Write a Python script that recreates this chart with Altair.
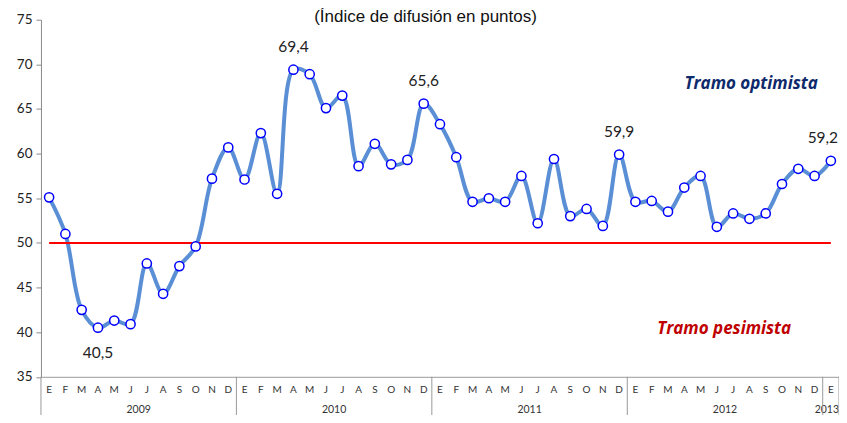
import altair as alt
import pandas as pd

# ---- data ----
months = ["E", "F", "M", "A", "M", "J", "J", "A", "S", "O", "N", "D"] * 4 + ["E"]
years = [2009] * 12 + [2010] * 12 + [2011] * 12 + [2012] * 12 + [2013]
values = [
    55.1, 51.0, 42.5, 40.5, 41.3, 40.9, 47.7, 44.3, 47.4, 49.6, 57.2, 60.7,
    57.1, 62.3, 55.5, 69.4, 68.9, 65.1, 66.5, 58.6, 61.1, 58.8, 59.3, 65.6,
    63.3, 59.6, 54.6, 55.0, 54.6, 57.5, 52.2, 59.4, 53.0, 53.8, 51.9, 59.9,
    54.6, 54.7, 53.5, 56.2, 57.5, 51.8, 53.3, 52.7, 53.3, 56.6, 58.3, 57.5,
    59.2,
]
label_idx = [3, 15, 23, 35, 48]
label_below = [True, False, False, False, False]
threshold = 50
y_ticks = [35, 40, 45, 50, 55, 60, 65, 70, 75]

n = len(values)
df = pd.DataFrame({"i": list(range(n)), "v": values, "m": months, "yr": years})

# year groups
yr_rows = []
for yv in sorted(set(years)):
    idx = [k for k, y in enumerate(years) if y == yv]
    yr_rows.append({"yr": str(yv), "c": (min(idx) + max(idx)) / 2})
yr_df = pd.DataFrame(yr_rows)
seps = sorted({min(k for k, y in enumerate(years) if y == yv) - 0.5 for yv in set(years)} | {n - 0.5})
sep_df = pd.DataFrame({"x": seps})

lab_df = pd.DataFrame({
    "i": label_idx,
    "v": [values[k] for k in label_idx],
    "t": [f"{values[k]:.1f}".replace(".", ",") for k in label_idx],
    "below": label_below,
})
thr_df = pd.DataFrame({"x": [0], "x2": [n - 1], "y": [threshold]})

W, H = 799, 357.5
xs = alt.Scale(domain=[-0.5, n - 0.5], nice=False, zero=False)
ys = alt.Scale(domain=[35, 75], nice=False, zero=False)

line = alt.Chart(df).mark_line(interpolate="catmull-rom", color="#5A8FD6", strokeWidth=4).encode(
    x=alt.X("i:Q", scale=xs, axis=alt.Axis(labels=False, ticks=False, grid=False, title=None,
                                           domainColor="#9a9a9a", domainWidth=1)),
    y=alt.Y("v:Q", scale=ys, axis=alt.Axis(values=y_ticks, grid=False, title=None, tickSize=5,
                                           tickColor="#8a8a8a", domainColor="#8a8a8a",
                                           labelFont="Lato", labelFontSize=13.5, labelColor="#222",
                                           labelPadding=4)),
)

thr = alt.Chart(thr_df).mark_rule(color="#FF0000", strokeWidth=2).encode(
    x=alt.X("x:Q", scale=xs), x2="x2:Q", y=alt.Y("y:Q", scale=ys)
)

pts = alt.Chart(df).mark_point(shape="circle", filled=True, fill="white", stroke="#0000FF",
                               strokeWidth=1.5, size=85, opacity=1).encode(
    x=alt.X("i:Q", scale=xs), y=alt.Y("v:Q", scale=ys)
)

above = lab_df[~lab_df["below"]]
ann_above = alt.Chart(above.iloc[:-1]).mark_text(
    font="Lato", fontSize=15.5, color="#222", dy=-23, baseline="middle").encode(
    x=alt.X("i:Q", scale=xs), y=alt.Y("v:Q", scale=ys), text="t:N")
ann_last = alt.Chart(above.iloc[-1:]).mark_text(
    font="Lato", fontSize=15.5, color="#222", dy=-23, dx=-8, baseline="middle").encode(
    x=alt.X("i:Q", scale=xs), y=alt.Y("v:Q", scale=ys), text="t:N")
ann_below = alt.Chart(lab_df[lab_df["below"]]).mark_text(
    font="Lato", fontSize=15.5, color="#222", dy=25, baseline="middle").encode(
    x=alt.X("i:Q", scale=xs), y=alt.Y("v:Q", scale=ys), text="t:N")

mon = alt.Chart(df).mark_text(font="Lato", fontSize=10, color="#333", baseline="middle").encode(
    x=alt.X("i:Q", scale=xs), y=alt.value(H + 13), text="m:N")
yrs = alt.Chart(yr_df.iloc[:-1]).mark_text(font="Lato", fontSize=10.5, color="#333", baseline="middle").encode(
    x=alt.X("c:Q", scale=xs), y=alt.value(H + 33), text="yr:N")
yr_last = alt.Chart(yr_df.iloc[-1:]).mark_text(font="Lato", fontSize=10.5, color="#333",
                                               baseline="middle", dx=-4).encode(
    x=alt.X("c:Q", scale=xs), y=alt.value(H + 33), text="yr:N")
sep = alt.Chart(sep_df).mark_rule(color="#9a9a9a", strokeWidth=1).encode(
    x=alt.X("x:Q", scale=xs), y=alt.value(H), y2=alt.value(H + 40))

opt = alt.Chart(pd.DataFrame({"t": ["Tramo optimista"]})).mark_text(
    font="Open Sans", fontSize=17, fontStyle="italic", fontWeight="bold", color="#0E2A6B",
    baseline="middle", align="center").encode(x=alt.value(711), y=alt.value(64), text="t:N")
pes = alt.Chart(pd.DataFrame({"t": ["Tramo pesimista"]})).mark_text(
    font="Open Sans", fontSize=17, fontStyle="italic", fontWeight="bold", color="#C00000",
    baseline="middle", align="center").encode(x=alt.value(684), y=alt.value(309.5), text="t:N")
title = alt.Chart(pd.DataFrame({"t": ["(Índice de difusión en puntos)"]})).mark_text(
    font="Liberation Sans", fontSize=17, color="#111", baseline="alphabetic", align="center").encode(
    x=alt.value(385), y=alt.value(2), text="t:N")

chart = alt.layer(line, thr, pts, ann_above, ann_last, ann_below, mon, yrs, yr_last, sep,
                  opt, pes, title).properties(
    width=W, height=H,
    padding={"left": 33, "top": 11.5, "right": 0, "bottom": 38},
    autosize=alt.AutoSizeParams(type="none"),
).configure_view(stroke=None)

chart.save("out.html", embed_options={"renderer": "svg", "actions": False})
